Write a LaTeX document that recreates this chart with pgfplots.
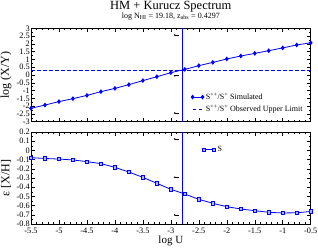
\documentclass[border=0pt]{standalone}
\usepackage{fontspec}
\setmainfont{Liberation Serif}
\usepackage{pgfplots}
\pgfplotsset{compat=1.18}
\usetikzlibrary{arrows.meta}

\pgfplotstableread{
u sim
-5.50 -2.14
-5.25 -1.93
-5.00 -1.71
-4.75 -1.52
-4.50 -1.31
-4.25 -1.07
-4.00 -0.86
-3.75 -0.62
-3.50 -0.36
-3.25 -0.11
-3.00 0.15
-2.75 0.36
-2.50 0.60
-2.25 0.81
-2.00 1.03
-1.75 1.22
-1.50 1.39
-1.25 1.56
-1.00 1.74
-0.75 1.93
-0.50 2.07
}\ratio

\pgfplotstableread{
u eps
-5.50 -0.079
-5.25 -0.088
-5.00 -0.094
-4.75 -0.104
-4.50 -0.122
-4.25 -0.144
-4.00 -0.184
-3.75 -0.235
-3.50 -0.293
-3.25 -0.358
-3.00 -0.423
-2.75 -0.474
-2.50 -0.532
-2.25 -0.575
-2.00 -0.612
-1.75 -0.637
-1.50 -0.655
-1.25 -0.673
-1.00 -0.680
-0.75 -0.678
-0.50 -0.664
}\epstab

\definecolor{myblue}{RGB}{0,0,255}

\pgfplotsset{
  panel/.style={
    scale only axis,
    width=279.7pt,
    xmin=-5.5, xmax=-0.5,
    xtick={-5.5,-5,-4.5,-4,-3.5,-3,-2.5,-2,-1.5,-1,-0.5},
    minor x tick num=4,
    tick align=inside,
    tick pos=both,
    major tick length=4pt,
    minor tick length=2pt,
    every tick/.style={black, line width=0.5pt},
    axis line style={line width=0.7pt},
    tick label style={font=\fontsize{8.3}{9}\selectfont},
    /pgf/number format/assume math mode=true,
    yticklabel style={inner xsep=1pt, inner ysep=0pt},
    xticklabel style={inner xsep=0.5pt, inner ysep=0pt, yshift=-3.8pt},
    ylabel style={font=\fontsize{12}{13}\selectfont, at={(axis description cs:-0.089,0.5)}, anchor=center},
    legend style={draw=none, fill=none, font=\fontsize{8}{9}\selectfont, row sep=0.5pt, inner sep=2pt},
    legend cell align=left,
    legend image code/.code={\draw[#1] plot coordinates {(0pt,0pt) (10pt,0pt)};},
  }
}

\begin{document}
\begin{tikzpicture}
\useasboundingbox (0pt,0pt) rectangle (318pt,249pt);

\begin{axis}[panel,
  at={(31pt,127.3pt)}, anchor=south west,
  height=93.4pt,
  ymin=-3, ymax=3,
  ytick={-3,-2.5,-2,-1.5,-1,-0.5,0,0.5,1,1.5,2,2.5,3},
  minor y tick num=1,
  xticklabels={},
  ylabel={log (X/Y)},
  legend style={at={(axis description cs:0.565,0.35)}, anchor=north west},
]
\addplot[myblue, line width=0.8pt, mark=diamond*, mark size=1.8pt, mark options={solid, fill=myblue}] table[x=u, y=sim] {\ratio};
\addlegendentry{S\textsuperscript{++}/S\textsuperscript{+} Simulated}
\addplot[myblue, line width=0.8pt, dash pattern=on 3.5pt off 2.5pt] coordinates {(-5.5,0.3) (-0.5,0.3)};
\addlegendentry{S\textsuperscript{++}/S\textsuperscript{+} Observed Upper Limit}
\addplot[myblue, line width=0.9pt, forget plot] coordinates {(-2.80,-3) (-2.80,3)};
\draw[black, line width=0.6pt, -{Latex[length=1.6pt,width=2.2pt]}] (axis cs:-2.85,2.57) -- (axis cs:-2.95,2.57);
\draw[black, line width=0.6pt, -{Latex[length=1.6pt,width=2.2pt]}] (axis cs:-2.85,-0.05) -- (axis cs:-2.95,-0.05);
\draw[black, line width=0.6pt, -{Latex[length=1.6pt,width=2.2pt]}] (axis cs:-2.85,-2.44) -- (axis cs:-2.95,-2.44);
\end{axis}

\begin{axis}[panel,
  at={(31pt,25pt)}, anchor=south west,
  height=92pt,
  ymin=-0.8, ymax=0.2,
  ytick={-0.8,-0.7,-0.6,-0.5,-0.4,-0.3,-0.2,-0.1,0,0.1,0.2},
  minor y tick num=1,
  ylabel={ε [X/H]},
  xlabel={log U},
  xlabel style={font=\fontsize{11}{12}\selectfont, inner sep=0.5pt, yshift=-2pt},
  legend style={at={(axis description cs:0.605,0.891)}, anchor=north west},
]
\addplot[myblue, line width=0.8pt, mark=square*, mark size=1.6pt, mark options={solid, fill=myblue!30, draw=myblue}] table[x=u, y=eps] {\epstab};
\addlegendentry{S}
\addplot[myblue, line width=0.9pt, forget plot] coordinates {(-2.80,-0.8) (-2.80,0.2)};
\draw[black, line width=0.6pt, -{Latex[length=1.6pt,width=2.2pt]}] (axis cs:-2.85,0.124) -- (axis cs:-2.95,0.124);
\draw[black, line width=0.6pt, -{Latex[length=1.6pt,width=2.2pt]}] (axis cs:-2.85,-0.292) -- (axis cs:-2.95,-0.292);
\draw[black, line width=0.6pt, -{Latex[length=1.6pt,width=2.2pt]}] (axis cs:-2.85,-0.702) -- (axis cs:-2.95,-0.702);
\end{axis}

\node[anchor=base, inner sep=0pt, font=\fontsize{12.5}{14}\selectfont] at (170.8pt,239pt) {HM + Kurucz Spectrum};
\node[anchor=base, inner sep=0pt, font=\fontsize{8}{9}\selectfont] at (170.8pt,230.8pt) {log N\textsubscript{HI} = 19.18, z\textsubscript{abs} = 0.4297};
\end{tikzpicture}
\end{document}
